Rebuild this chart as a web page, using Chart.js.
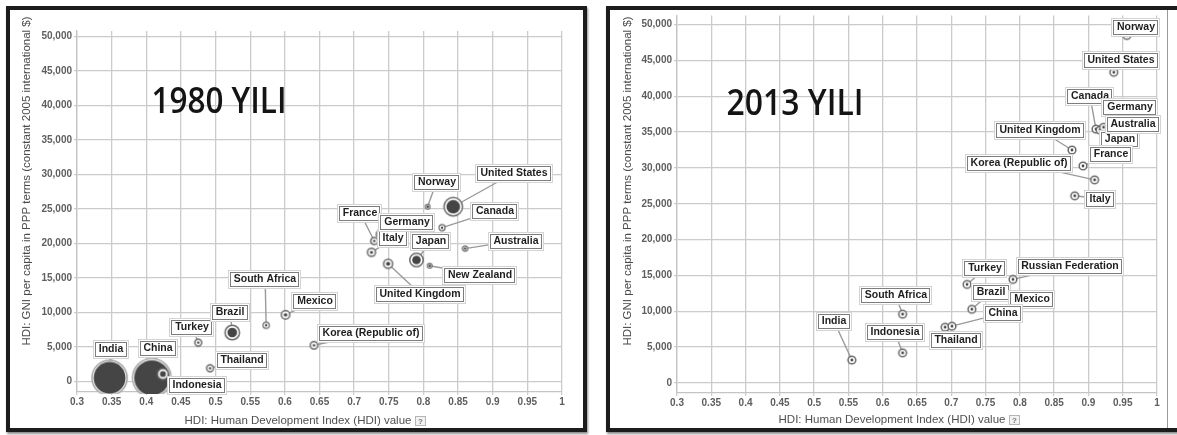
<!DOCTYPE html>
<html><head><meta charset="utf-8">
<script src="https://cdn.jsdelivr.net/npm/chart.js@4.4.1/dist/chart.umd.min.js"></script>
<style>
html,body{margin:0;padding:0;background:#fff;width:1177px;height:435px;overflow:hidden;position:relative}
.frame{position:absolute;border:4px solid #1c1c1c;background:#fff;box-shadow:1px 2px 2px rgba(0,0,0,.45)}
canvas{display:block}
.vline{position:absolute;top:0;width:1px;background:#9a9a9a}
</style></head><body>
<div class="frame" style="left:6px;top:6px;width:573px;height:418px"><canvas id="c1" width="573" height="418"></canvas></div>
<div class="frame" style="left:606px;top:6px;width:567px;height:418px"><canvas id="c2" width="557" height="418"></canvas><div class="vline" style="left:557px;height:418px"></div></div>
<script>
// ---- data ----
const xTicks = [0.3,0.35,0.4,0.45,0.5,0.55,0.6,0.65,0.7,0.75,0.8,0.85,0.9,0.95,1];
const xTickLabels = ["0.3","0.35","0.4","0.45","0.5","0.55","0.6","0.65","0.7","0.75","0.8","0.85","0.9","0.95","1"];
const yTicks = [0,5000,10000,15000,20000,25000,30000,35000,40000,45000,50000];
const yTickLabels = ["0","5,000","10,000","15,000","20,000","25,000","30,000","35,000","40,000","45,000","50,000"];

const countries1980 = ["India","China","Indonesia","Turkey","Thailand","Brazil","South Africa","Mexico","Korea (Republic of)","United Kingdom","New Zealand","Japan","Australia","Italy","France","Germany","Canada","United States","Norway"];
const hdi1980 = [0.347,0.408,0.424,0.475,0.492,0.524,0.573,0.601,0.642,0.749,0.809,0.790,0.860,0.725,0.729,0.738,0.827,0.843,0.806];
const gni1980 = [550,550,1100,5650,1950,7120,8170,9680,5270,17080,16800,17630,19280,18730,20380,21340,22310,25340,25340];
const pop1980 = [770,920,88,40,40,147,33,57,46,64,3,129,25,53,43,56,31,230,4]; // bubble size (millions)

const countries2013 = ["India","South Africa","Indonesia","Thailand","Turkey","Russian Federation","Brazil","Mexico","China","Norway","United States","Canada","Germany","Japan","Australia","United Kingdom","France","Korea (Republic of)","Italy"];
const hdi2013 = [0.555,0.629,0.629,0.691,0.723,0.790,0.730,0.756,0.701,0.956,0.937,0.911,0.920,0.917,0.922,0.876,0.892,0.909,0.880];
const gni2013 = [3200,9600,4200,7780,13750,14450,10280,12360,7920,48480,43340,35420,35420,35280,35670,32500,30280,28340,26110];

// ---- layout (label offsets in px, not data) ----
const labelOffsets1980 = {"India":[1,-29],"China":[6,-30],"Indonesia":[34,11],"Turkey":[-6,-16],"Thailand":[32,-8],"Brazil":[-2,-21],"South Africa":[-1,-46],"Mexico":[29,-14],"Korea (Republic of)":[57,-12],"United Kingdom":[32,30],"New Zealand":[50,9],"Japan":[15,-19],"Australia":[51,-8],"Italy":[22,-14],"France":[-14,-28],"Germany":[27,-12],"Canada":[53,-17],"United States":[61,-34],"Norway":[9,-25]};
const labelOffsets2013 = {"India":[-18,-39],"South Africa":[-7,-19],"Indonesia":[-8,-21],"Thailand":[11,13],"China":[51,-13],"Brazil":[19,-17],"Mexico":[42,5],"Turkey":[18,-16],"Russian Federation":[57,-13],"Norway":[9,-8],"United States":[7,-12],"Canada":[-6,-33],"Germany":[28,-22],"Australia":[29,-3],"Japan":[20,9],"United Kingdom":[-32,-20],"France":[28,-12],"Korea (Republic of)":[-76,-17],"Italy":[25,3]};

function ringImage(R){
  const s = Math.ceil(2*R+4), c = document.createElement('canvas');
  c.width = c.height = s;
  const g = c.getContext('2d'), m = s/2;
  const lw = R>4 ? 1.5 : 1.2;
  g.beginPath(); g.arc(m,m,R-lw/2,0,Math.PI*2);
  g.fillStyle='#fff'; g.fill();
  g.lineWidth = lw; g.strokeStyle = R>12 ? '#a3a3a3' : '#6a6a6a'; g.stroke();
  const ri = R>12 ? R-2.4 : Math.max(1.2, R-3.2);
  g.beginPath(); g.arc(m,m,ri,0,Math.PI*2);
  g.fillStyle = '#454545'; g.fill();
  return c;
}

function makeChart(id, names, xs, ys, radii, offsets, opt){
  const pts = names.map((n,i)=>({name:n,x:xs[i],y:ys[i],r:radii[i]}));
  const drawIdx = pts.map((p,i)=>i).sort((a,b)=>pts[b].r-pts[a].r); // big first
  const dataPts = drawIdx.map(i=>pts[i]);
  const imgs = dataPts.map(p=>ringImage(p.r));
  const font = '"Liberation Sans", Arial, sans-serif';
  function elFor(chart, name){
    const meta = chart.getDatasetMeta(0);
    const k = dataPts.findIndex(p=>p.name===name);
    return meta.data[k];
  }
  const plugin = {
    id:'deco'+id,
    beforeDatasetsDraw(chart){
      const ctx = chart.ctx;
      ctx.save();
      ctx.font = opt.bigFont; ctx.fillStyle = '#141414'; ctx.textAlign='center'; ctx.textBaseline='alphabetic';
      const mw = ctx.measureText(opt.bigText).width;
      ctx.translate(opt.bigX, opt.bigY); ctx.scale(opt.bigW/mw, 1);
      ctx.fillText(opt.bigText, 0, 0);
      ctx.setTransform(1,0,0,1,0,0);
      ctx.strokeStyle = '#9a9a9a'; ctx.lineWidth = 1.4;
      names.forEach(n=>{
        const el = elFor(chart,n), o = offsets[n];
        ctx.beginPath(); ctx.moveTo(el.x, el.y); ctx.lineTo(el.x+o[0], el.y+o[1]); ctx.stroke();
      });
      ctx.restore();
    },
    afterDatasetsDraw(chart){
      const ctx = chart.ctx;
      ctx.save();
      ctx.font = 'bold 10.5px '+font; ctx.textAlign='center'; ctx.textBaseline='middle';
      names.forEach(n=>{
        const el = elFor(chart,n), o = offsets[n];
        const cx = Math.round(el.x+o[0]), cy = Math.round(el.y+o[1]);
        const w = Math.round(ctx.measureText(n).width + 7), h = 15;
        const x0 = cx - Math.round(w/2), y0 = cy - 7;
        ctx.fillStyle = '#fff'; ctx.fillRect(x0-1, y0-1, w+2, h+2);
        ctx.strokeStyle = '#d4d4d4'; ctx.lineWidth = 1; ctx.strokeRect(x0-1.5, y0-1.5, w+3, h+3);
        ctx.strokeStyle = '#7d7d7d'; ctx.strokeRect(x0+0.5, y0+0.5, w-1, h-1);
        ctx.fillStyle = '#1e1e1e'; ctx.fillText(n, cx, cy+0.5);
      });
      ctx.restore();
    },
    afterDraw(chart){
      const ctx = chart.ctx;
      ctx.save();
      ctx.fillStyle = '#4a4a4a';
      ctx.font = '11.5px '+font; ctx.textAlign='center'; ctx.textBaseline='middle';
      ctx.translate(opt.yTitleX, opt.yTitleY); ctx.rotate(-Math.PI/2);
      ctx.fillText('HDI: GNI per capita in PPP terms (constant 2005 international $)', 0, 0);
      ctx.setTransform(1,0,0,1,0,0);
      const t = 'HDI: Human Development Index (HDI) value';
      ctx.fillStyle = '#505050';
      ctx.fillText(t, opt.xTitleX, opt.xTitleY);
      const tw = ctx.measureText(t).width;
      const bx = Math.round(opt.xTitleX + tw/2 + 4), by = Math.round(opt.xTitleY - 5);
      ctx.fillStyle='#f2f2f2'; ctx.fillRect(bx, by, 11, 10);
      ctx.strokeStyle='#b5b5b5'; ctx.lineWidth=1; ctx.strokeRect(bx+0.5, by+0.5, 10, 9);
      ctx.fillStyle='#777'; ctx.font='bold 8px '+font; ctx.fillText('?', bx+5.5, by+5.5);
      ctx.restore();
    }
  };
  return new Chart(document.getElementById(id), {
    type:'scatter',
    data:{datasets:[{data:dataPts.map(p=>({x:p.x,y:p.y})),
      pointStyle:(c)=>imgs[c.dataIndex], pointRadius:(c)=>dataPts[c.dataIndex]?dataPts[c.dataIndex].r:3,
      clip:2}]},
    options:{
      responsive:false, animation:false, devicePixelRatio:1, events:[],
      layout:{padding:opt.padding},
      plugins:{legend:{display:false},tooltip:{enabled:false}},
      scales:{
        x:{type:'linear',min:0.3,max:1,
          afterBuildTicks:s=>{s.ticks = xTicks.map(v=>({value:v}));},
          afterFit:s=>{s.height=opt.xHeight; s.paddingLeft=0; s.paddingRight=0;},
          ticks:{callback:(v,i)=>xTickLabels[i],font:{family:font,size:10,weight:'bold'},color:'#5e5e5e',padding:1,maxRotation:0,autoSkip:false},
          grid:{color:'#cbcbcb',lineWidth:1.3,tickLength:3},
          border:{display:true,color:'#c4c4c4',width:1.3}},
        y:{type:'linear',min:opt.yMin,max:opt.yMax,
          afterBuildTicks:s=>{s.ticks = yTicks.map(v=>({value:v}));},
          afterFit:s=>{s.width=67; s.paddingTop=0; s.paddingBottom=0;},
          ticks:{callback:(v,i)=>yTickLabels[i],font:{family:font,size:10,weight:'bold'},color:'#5e5e5e',padding:2,autoSkip:false},
          grid:{color:'#cbcbcb',lineWidth:1.3,tickLength:3},
          border:{display:true,color:'#c4c4c4',width:1.3}}
      }
    },
    plugins:[plugin]
  });
}

const r1980 = pop1980.map(p=>Math.max(3, 0.66*Math.sqrt(p)));
const r2013 = countries2013.map(()=>4.6);

makeChart('c1', countries1980, hdi1980, gni1980, r1980, labelOffsets1980, {
  padding:{left:0,top:2,right:13,bottom:0}, xHeight:36, yMin:-1500, yMax:50800,
  bigText:'1980 YILI', bigFont:'600 36px "Open Sans", sans-serif', bigX:209, bigY:103, bigW:135,
  yTitleX:17, yTitleY:171, xTitleX:288, xTitleY:411
});
makeChart('c2', countries2013, hdi2013, gni2013, r2013, labelOffsets2013, {
  padding:{left:0,top:4,right:10,bottom:0}, xHeight:35, yMin:-1400, yMax:51250,
  bigText:'2013 YILI', bigFont:'600 36px "Open Sans", sans-serif', bigX:185, bigY:105, bigW:137,
  yTitleX:18, yTitleY:171, xTitleX:282, xTitleY:410
});
</script>
</body></html>
